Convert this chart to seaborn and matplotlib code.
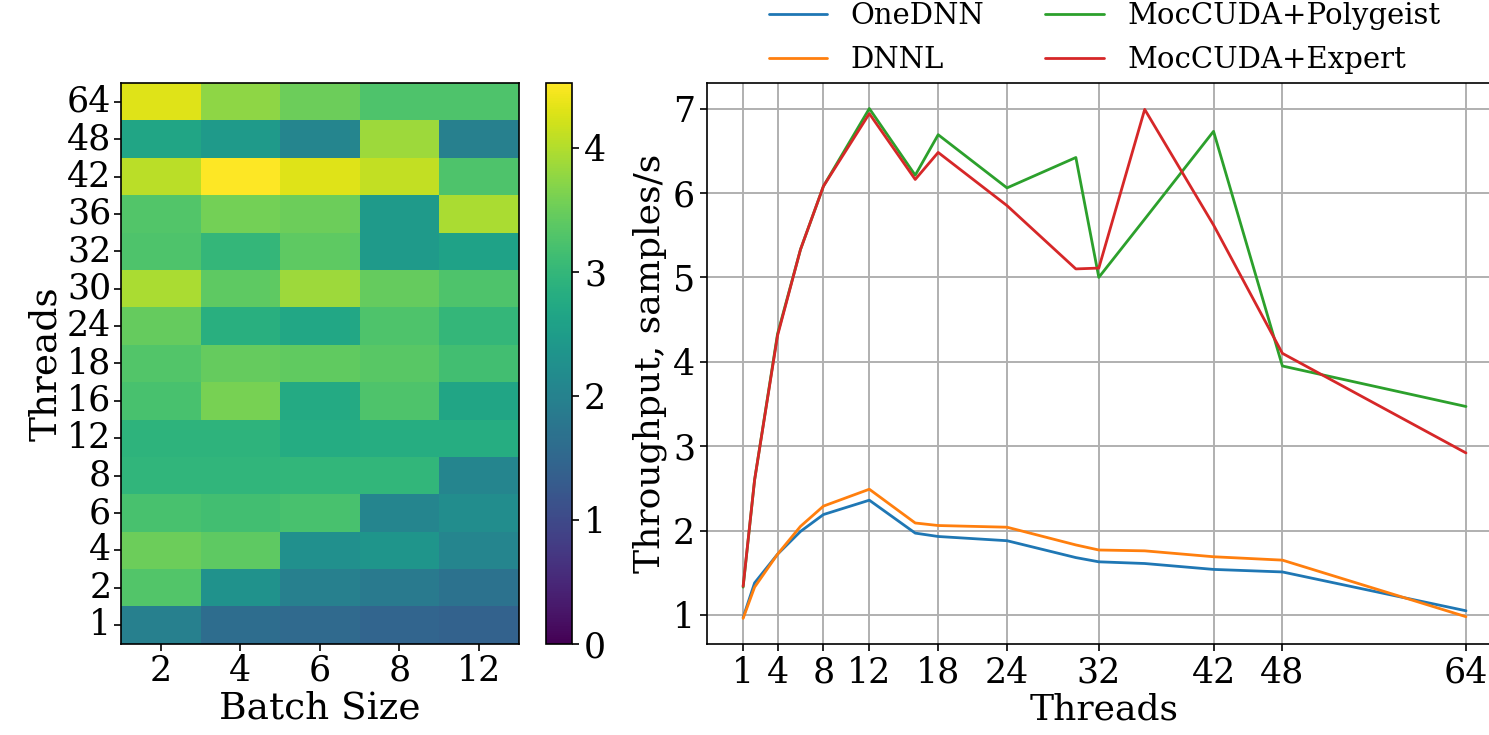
import numpy as np
import pandas as pd
import matplotlib
matplotlib.use("Agg")
import matplotlib.pyplot as plt
import seaborn as sns

sns.set_style("ticks")
plt.rcParams['font.family'] = ['DejaVu Serif']
for key in ["text.color", "axes.labelcolor", "xtick.color", "ytick.color", "axes.edgecolor"]:
    plt.rcParams[key] = "black"

# heatmap data (rows top to bottom)
heat_threads = [64, 48, 42, 36, 32, 30, 24, 18, 16, 12, 8, 6, 4, 2, 1]
batch_sizes = [2, 4, 6, 8, 12]
heat_values = [
    [4.30, 3.75, 3.50, 3.25, 3.25],
    [2.65, 2.45, 2.05, 3.85, 1.95],
    [4.05, 4.52, 4.30, 4.10, 3.25],
    [3.30, 3.55, 3.50, 2.45, 3.95],
    [3.25, 3.00, 3.40, 2.45, 2.60],
    [3.95, 3.40, 3.85, 3.45, 3.25],
    [3.45, 2.85, 2.70, 3.25, 3.00],
    [3.30, 3.45, 3.42, 3.35, 3.15],
    [3.20, 3.60, 2.75, 3.25, 2.65],
    [2.92, 2.92, 2.78, 2.80, 2.80],
    [2.95, 2.95, 2.97, 2.97, 2.05],
    [3.20, 3.15, 3.20, 2.05, 2.20],
    [3.50, 3.40, 2.25, 2.35, 2.05],
    [3.30, 2.30, 1.95, 1.85, 1.70],
    [1.95, 1.60, 1.55, 1.45, 1.40],
]

# throughput data
threads = [1, 2, 4, 6, 8, 12, 16, 18, 24, 30, 32, 36, 42, 48, 64]
onednn = [0.97, 1.38, 1.72, 1.99, 2.19, 2.36, 1.97, 1.93, 1.88, 1.68, 1.63, 1.61, 1.54, 1.51, 1.05]
dnnl = [0.96, 1.33, 1.72, 2.05, 2.29, 2.49, 2.09, 2.06, 2.04, 1.83, 1.77, 1.76, 1.69, 1.65, 0.98]
polygeist = [1.33, 2.60, 4.33, 5.33, 6.08, 7.00, 6.21, 6.69, 6.06, 6.42, 5.00, 5.69, 6.73, 3.95, 3.47]
expert = [1.34, 2.60, 4.31, 5.33, 6.08, 6.94, 6.16, 6.48, 5.85, 5.10, 5.11, 6.99, 5.62, 4.10, 2.92]
xticks = [1, 4, 8, 12, 18, 24, 32, 42, 48, 64]

names = ["OneDNN", "DNNL", "MocCUDA+Polygeist", "MocCUDA+Expert"]
series = [onednn, dnnl, polygeist, expert]
df = pd.DataFrame({
    "threads": threads * 4,
    "throughput": sum(series, []),
    "impl": [n for n in names for _ in threads],
})

fig = plt.figure(figsize=(14.89, 7.35), dpi=100)
ax1 = fig.add_axes([0.0813, 0.124, 0.267, 0.763])
cax = fig.add_axes([0.3667, 0.124, 0.0175, 0.763])
ax2 = fig.add_axes([0.4748, 0.124, 0.534, 0.763])

# heatmap
hm = pd.DataFrame(heat_values, index=heat_threads, columns=batch_sizes)
sns.heatmap(hm, ax=ax1, cbar_ax=cax, cmap="viridis", vmin=0,
            xticklabels=batch_sizes, yticklabels=heat_threads)
for s in ax1.spines.values():
    s.set_visible(True)
    s.set_linewidth(1.2)
ax1.tick_params(labelsize=25, length=5, width=1.2, rotation=0, pad=2)
ax1.set_xlabel("Batch Size", fontsize=27, labelpad=2)
ax1.set_ylabel("Threads", fontsize=27, labelpad=2)
cax.tick_params(labelsize=25, length=5, width=1.2)
cax.set_yticks([0, 1, 2, 3, 4])
cb = ax1.collections[0].colorbar
cb.outline.set_visible(True)
cb.outline.set_linewidth(1.2)

# throughput lines
sns.lineplot(data=df, x="threads", y="throughput", hue="impl", hue_order=names,
             palette=sns.color_palette("tab10", 4), linewidth=2, ax=ax2)
ax2.set_xticks(xticks)
ax2.set_yticks([1, 2, 3, 4, 5, 6, 7])
ax2.grid(True, color="#b0b0b0", linewidth=1.4)
ax2.set_axisbelow(True)
ax2.tick_params(labelsize=25, length=5, width=1.2)
ax2.set_xlabel("Threads", fontsize=26, labelpad=2)
ax2.set_ylabel("Throughput, samples/s", fontsize=26, labelpad=4)
for s in ax2.spines.values():
    s.set_linewidth(1.2)
ax2.legend(loc="lower center", bbox_to_anchor=(0.5, 0.99), ncol=2, frameon=False,
           fontsize=21, handlelength=2.0, columnspacing=2.1, labelspacing=0.55,
           borderaxespad=0.1)

fig.savefig("out.png", dpi=100)
